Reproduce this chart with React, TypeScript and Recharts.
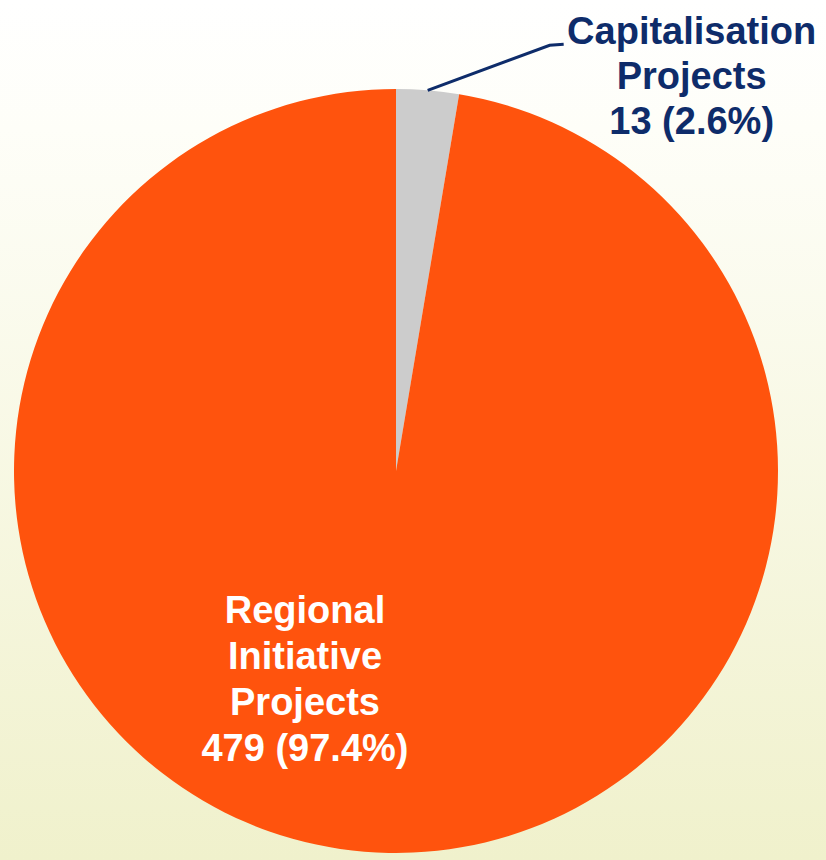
import React from 'react';
import { PieChart, Pie, Cell } from 'recharts';

const names = ['Capitalisation Projects', 'Regional Initiative Projects'];
const counts = [13, 479];
const shares = ['2.6%', '97.4%'];
const labelLines = [
  ['Capitalisation', 'Projects', '13 (2.6%)'],
  ['Regional', 'Initiative', 'Projects', '479 (97.4%)'],
];
const colors = ['#CCCCCC', '#FF530D'];

const data = names.map((name, i) => ({ name, value: counts[i], share: shares[i] }));

const RADIAN = Math.PI / 180;
const FONT = 'Arial, "Liberation Sans", sans-serif';

const renderLabel = (props: any) => {
  const { cx, cy, midAngle, outerRadius, index } = props;
  const lines = labelLines[index];
  if (index === 0) {
    // outside label with a leader line
    const sx = cx + Math.cos(-midAngle * RADIAN) * outerRadius;
    const sy = cy + Math.sin(-midAngle * RADIAN) * outerRadius;
    const ex = sx + 122;
    const ey = sy - 45;
    return (
      <g>
        <polyline
          points={`${sx},${sy} ${ex},${ey} ${ex + 14},${ey - 1}`}
          fill="none"
          stroke="#0E2C6A"
          strokeWidth={3}
        />
        {lines.map((t, i) => (
          <text
            key={i}
            x={ex + 142}
            y={ey - 1 + i * 45}
            textAnchor="middle"
            fill="#0E2C6A"
            fontFamily={FONT}
            fontWeight="bold"
            fontSize={38}
          >
            {t}
          </text>
        ))}
      </g>
    );
  }
  return (
    <g>
      {lines.map((t, i) => (
        <text
          key={i}
          x={cx - 91}
          y={cy + 152 + i * 46}
          textAnchor="middle"
          fill="#FFFFFF"
          fontFamily={FONT}
          fontWeight="bold"
          fontSize={38}
        >
          {t}
        </text>
      ))}
    </g>
  );
};

export default function App() {
  return (
    <div
      style={{
        position: 'absolute',
        left: 0,
        top: 0,
        width: 826,
        height: 860,
        background: 'linear-gradient(to bottom, #FFFFFF 0%, #FEFEF8 15%, #F0F1CC 100%)',
      }}
    >
      <PieChart width={826} height={860} margin={{ top: 0, right: 0, bottom: 0, left: 0 }}>
        <Pie
          data={data}
          dataKey="value"
          nameKey="name"
          cx={396}
          cy={471}
          outerRadius={382}
          startAngle={90}
          endAngle={-270}
          stroke="none"
          label={renderLabel}
          labelLine={false}
          isAnimationActive={false}
        >
          {data.map((d, i) => (
            <Cell key={d.name} fill={colors[i]} />
          ))}
        </Pie>
      </PieChart>
    </div>
  );
}
